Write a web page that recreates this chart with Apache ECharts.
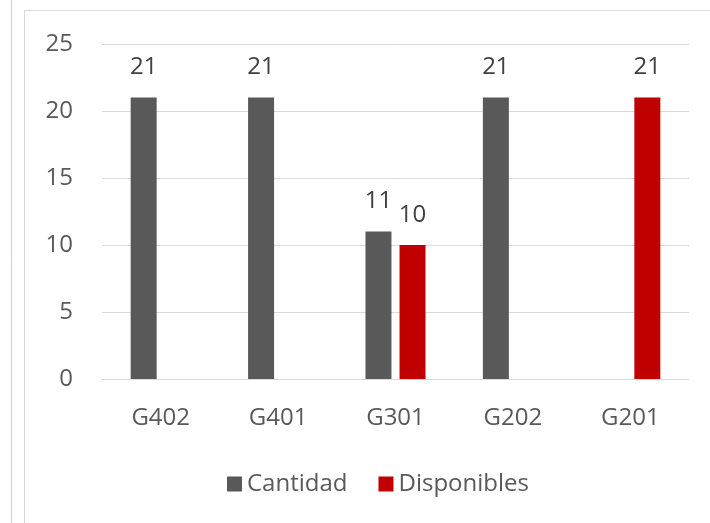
<!DOCTYPE html>
<html>
<head>
<meta charset="utf-8">
<script src="https://cdn.jsdelivr.net/npm/echarts@6/dist/echarts.min.js"></script>
<style>html,body{margin:0;padding:0;background:#fff}#c{width:710px;height:523px}</style>
</head>
<body>
<div id="c"></div>
<script>
const categories = ['G402', 'G401', 'G301', 'G202', 'G201'];
const cantidad = [21, 21, 11, 21, null];
const disponibles = [null, null, 10, null, 21];
const yTicks = [0, 5, 10, 15, 20, 25];

const FONT = 'Open Sans';
const chart = echarts.init(document.getElementById('c'), null, {renderer: 'canvas'});
const labelStyle = {show: true, position: 'top', distance: 18, color: '#404040', fontSize: 24, fontFamily: FONT};
chart.setOption({
  animation: false,
  backgroundColor: '#fff',
  graphic: [
    {type: 'line', shape: {x1: 11.5, y1: 0, x2: 11.5, y2: 523}, style: {stroke: '#cfcfcf', lineWidth: 1}},
    {type: 'line', shape: {x1: 24.5, y1: 10, x2: 24.5, y2: 523}, style: {stroke: '#d9d9d9', lineWidth: 1}},
    {type: 'line', shape: {x1: 24.5, y1: 10.5, x2: 710, y2: 10.5}, style: {stroke: '#d9d9d9', lineWidth: 1}}
  ],
  grid: {left: 102, right: 21, top: 44, bottom: 144},
  legend: {
    left: 222, top: 467,
    itemWidth: 15, itemHeight: 15, itemGap: 31,
    icon: 'rect',
    textStyle: {color: '#595959', fontSize: 24, fontFamily: FONT, padding: [0, 0, 0, 0]},
    data: ['Cantidad', 'Disponibles']
  },
  xAxis: {
    type: 'category',
    data: categories,
    axisLine: {lineStyle: {color: '#d9d9d9', width: 1}},
    axisTick: {show: false},
    axisLabel: {color: '#595959', fontSize: 24, fontFamily: FONT, margin: 27}
  },
  yAxis: {
    type: 'value',
    min: yTicks[0], max: yTicks[yTicks.length - 1], interval: 5,
    axisLine: {show: false},
    axisTick: {show: false},
    splitLine: {lineStyle: {color: '#d9d9d9', width: 1}},
    axisLabel: {color: '#595959', fontSize: 24, fontFamily: FONT, margin: 29}
  },
  series: [
    {name: 'Cantidad', type: 'bar', data: cantidad, barWidth: 26, barGap: '31%',
     itemStyle: {color: '#595959'}, label: labelStyle},
    {name: 'Disponibles', type: 'bar', data: disponibles, barWidth: 26,
     itemStyle: {color: '#c00000'}, label: labelStyle}
  ]
});
</script>
</body>
</html>
